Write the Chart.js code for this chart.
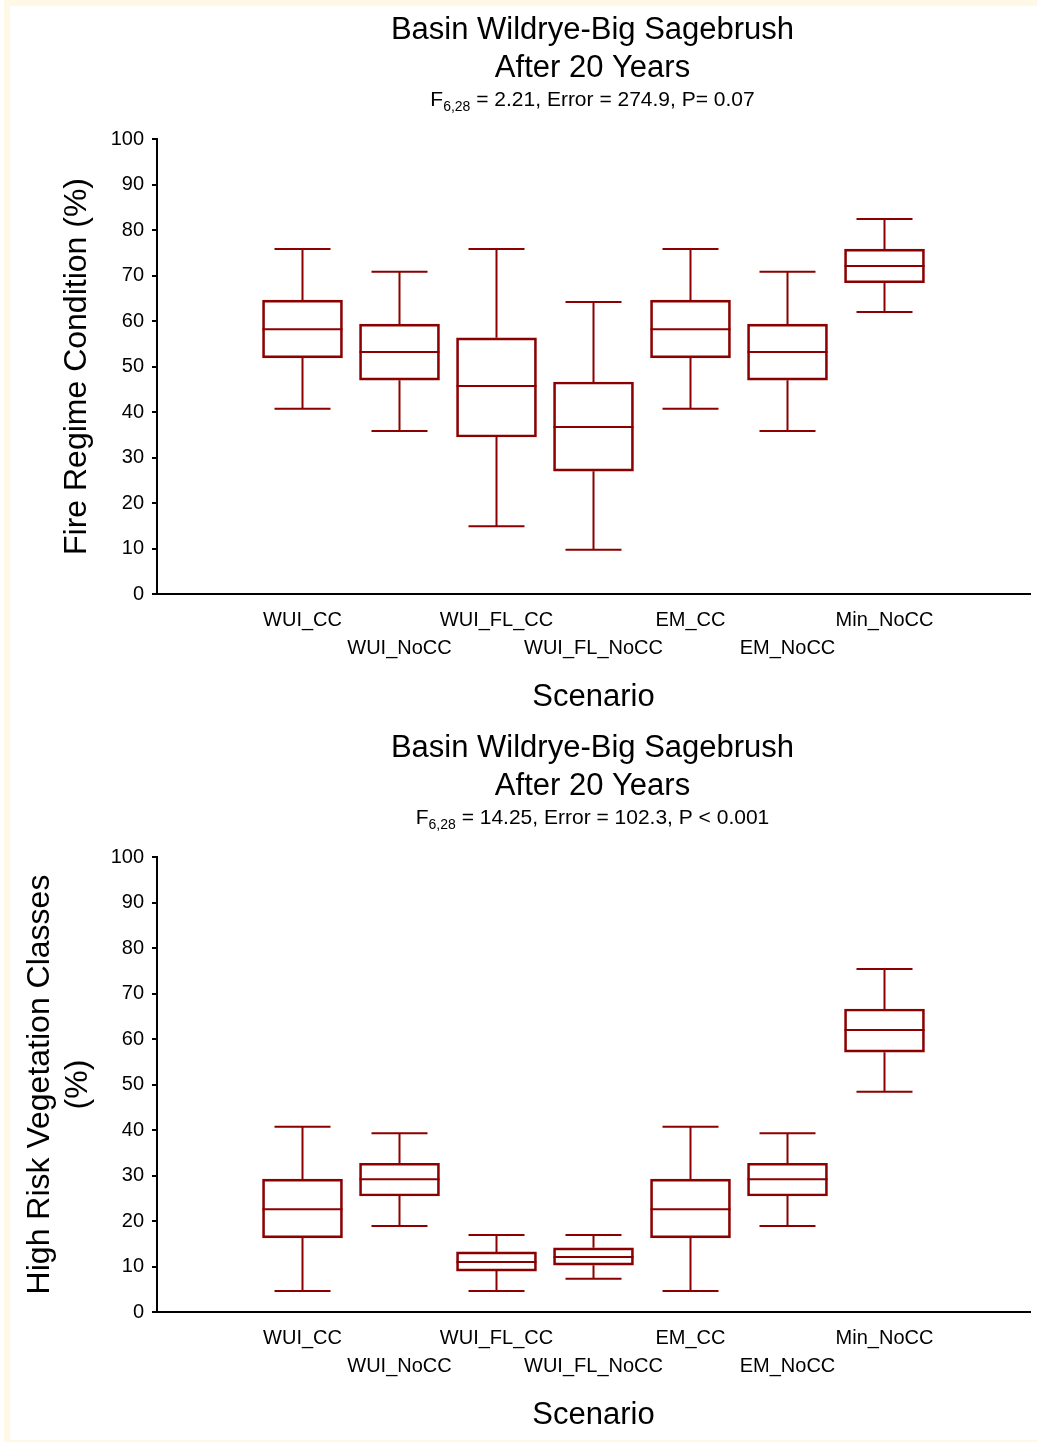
<!DOCTYPE html>
<html>
<head>
<meta charset="utf-8">
<script src="https://cdn.jsdelivr.net/npm/chart.js@4.4.0/dist/chart.umd.min.js"></script>
<style>
  body { margin: 0; background: #fff; }
  .frame { position: absolute; left: 4px; top: 0; width: 1033px; height: 1442px; background: #fff8e7; }
  .sheet { position: absolute; left: 10px; top: 6px; width: 1027px; height: 1434px; background: #fff; }
  canvas { position: absolute; left: 0; }
</style>
</head>
<body>
<div class="frame"></div>
<div class="sheet"></div>
<canvas id="fireChart" width="1037" height="718" style="top:0"></canvas>
<canvas id="riskChart" width="1037" height="718" style="top:718px"></canvas>

<script>
// scenarios along the x axis
const scenarios = ['WUI_CC', 'WUI_NoCC', 'WUI_FL_CC', 'WUI_FL_NoCC', 'EM_CC', 'EM_NoCC', 'Min_NoCC'];
const yTicks = [0, 10, 20, 30, 40, 50, 60, 70, 80, 90, 100];

// Fire Regime Condition (%)
const fireMin    = [40.7, 35.8, 14.9,  9.7, 40.7, 35.8, 62.0];
const fireQ1     = [51.9, 47.0, 34.5, 27.0, 51.9, 47.0, 68.4];
const fireMedian = [58.2, 53.2, 45.7, 36.7, 58.2, 53.2, 72.1];
const fireQ3     = [64.6, 59.3, 56.3, 46.6, 64.6, 59.3, 75.8];
const fireMax    = [75.8, 70.8, 75.8, 64.2, 75.8, 70.8, 82.4];

// High Risk Vegetation Classes (%)
const riskMin    = [ 4.6, 18.9,  4.6,  7.3,  4.6, 18.9, 48.4];
const riskQ1     = [16.3, 25.5,  9.0, 10.3, 16.3, 25.5, 57.1];
const riskMedian = [22.6, 29.2, 11.0, 12.1, 22.6, 29.2, 62.0];
const riskQ3     = [29.2, 32.7, 13.2, 14.1, 29.2, 32.7, 66.6];
const riskMax    = [40.7, 39.3, 16.9, 16.9, 40.7, 39.3, 75.4];

const RED = '#8b0000';
const FONT = '"Liberation Sans", Arial, sans-serif';

// whiskers, caps and median lines, drawn through the chart scales
const whiskerPlugin = {
  id: 'whiskers',
  afterDatasetsDraw(chart, args, opts) {
    const { ctx, scales: { x, y } } = chart;
    ctx.save();
    ctx.strokeStyle = RED;
    ctx.lineWidth = 2;
    opts.min.forEach((lo, i) => {
      const px = x.getPixelForValue(i);
      const cap = 28, half = 40;
      ctx.beginPath();
      ctx.moveTo(px, y.getPixelForValue(opts.max[i]));
      ctx.lineTo(px, y.getPixelForValue(opts.q3[i]));
      ctx.moveTo(px, y.getPixelForValue(opts.q1[i]));
      ctx.lineTo(px, y.getPixelForValue(lo));
      ctx.moveTo(px - cap, y.getPixelForValue(opts.max[i]));
      ctx.lineTo(px + cap, y.getPixelForValue(opts.max[i]));
      ctx.moveTo(px - cap, y.getPixelForValue(lo));
      ctx.lineTo(px + cap, y.getPixelForValue(lo));
      ctx.moveTo(px - half, y.getPixelForValue(opts.median[i]));
      ctx.lineTo(px + half, y.getPixelForValue(opts.median[i]));
      ctx.stroke();
    });
    ctx.restore();
  }
};

// two title lines plus the F statistic line with a subscript
const headerPlugin = {
  id: 'header',
  afterDraw(chart, args, opts) {
    const { ctx, chartArea } = chart;
    const cx = (chartArea.left + chartArea.right) / 2 - 1;
    ctx.save();
    ctx.fillStyle = '#000';
    ctx.textBaseline = 'middle';
    ctx.textAlign = 'center';
    ctx.font = '31px ' + FONT;
    ctx.fillText('Basin Wildrye-Big Sagebrush', cx, 30);
    ctx.fillText('After 20 Years', cx, 68);

    const big = '21px ' + FONT, small = '14px ' + FONT;
    ctx.textAlign = 'left';
    ctx.textBaseline = 'alphabetic';
    ctx.font = big;
    const wF = ctx.measureText('F').width;
    const wRest = ctx.measureText(opts.rest).width;
    ctx.font = small;
    const wSub = ctx.measureText(opts.sub).width;
    let xx = cx - (wF + wSub + wRest) / 2;
    const base = 106;
    ctx.font = big;
    ctx.fillText('F', xx, base);
    xx += wF;
    ctx.font = small;
    ctx.fillText(opts.sub, xx, base + 5);
    xx += wSub;
    ctx.font = big;
    ctx.fillText(opts.rest, xx, base);
    ctx.restore();
  }
};

function makeBoxChart(id, yTitle, yTitlePad, sub, rest, lo, q1, med, q3, hi) {
  const ctx = document.getElementById(id).getContext('2d');
  return new Chart(ctx, {
    type: 'bar',
    data: {
      datasets: [{
        data: scenarios.map((s, i) => ({ x: i, y: [q1[i], q3[i]] })),
        backgroundColor: 'rgba(0,0,0,0)',
        borderColor: RED,
        borderWidth: 2,
        borderSkipped: false,
        barThickness: 80
      }]
    },
    options: {
      responsive: false,
      animation: false,
      layout: { padding: { left: 0, right: 7, top: 139, bottom: 0 } },
      plugins: {
        legend: { display: false },
        tooltip: { enabled: false },
        whiskers: { min: lo, q1: q1, median: med, q3: q3, max: hi },
        header: { sub: sub, rest: rest }
      },
      scales: {
        x: {
          type: 'linear',
          min: -1.5,
          max: 7.5,
          offset: false,
          afterBuildTicks: (axis) => { axis.ticks = scenarios.map((s, i) => ({ value: i })); },
          afterFit: (axis) => { axis.height = 124; },
          grid: { display: true, drawOnChartArea: false, drawTicks: false, offset: false },
          border: { display: true, color: '#000', width: 2 },
          ticks: {
            autoSkip: false,
            maxRotation: 0,
            minRotation: 0,
            padding: 12,
            color: '#000',
            font: { family: FONT, size: 20, lineHeight: '28px' },
            callback: (v) => (v % 2 === 0 ? scenarios[v] : ['', scenarios[v]])
          },
          title: {
            display: true,
            text: 'Scenario',
            color: '#000',
            font: { family: FONT, size: 31, lineHeight: '38px' },
            padding: { top: 0, bottom: 2 }
          }
        },
        y: {
          min: 0,
          max: 100,
          afterBuildTicks: (axis) => { axis.ticks = yTicks.map(v => ({ value: v })); },
          afterFit: (axis) => { axis.width = 157; },
          grid: { display: true, drawOnChartArea: false, drawTicks: true, tickLength: 5, color: '#000', lineWidth: 2 },
          border: { display: true, color: '#000', width: 2 },
          ticks: {
            padding: 8,
            color: '#000',
            font: { family: FONT, size: 20 }
          },
          title: {
            display: true,
            text: yTitle,
            color: '#000',
            font: { family: FONT, size: 32, lineHeight: '38px' },
            padding: { top: yTitlePad, bottom: 0 }
          }
        }
      }
    },
    plugins: [whiskerPlugin, headerPlugin]
  });
}

makeBoxChart('fireChart', 'Fire Regime Condition (%)', 58,
  '6,28', ' = 2.21, Error = 274.9, P= 0.07',
  fireMin, fireQ1, fireMedian, fireQ3, fireMax);

makeBoxChart('riskChart', ['High Risk Vegetation Classes', '(%)'], 21,
  '6,28', ' = 14.25, Error = 102.3, P < 0.001',
  riskMin, riskQ1, riskMedian, riskQ3, riskMax);
</script>
</body>
</html>
